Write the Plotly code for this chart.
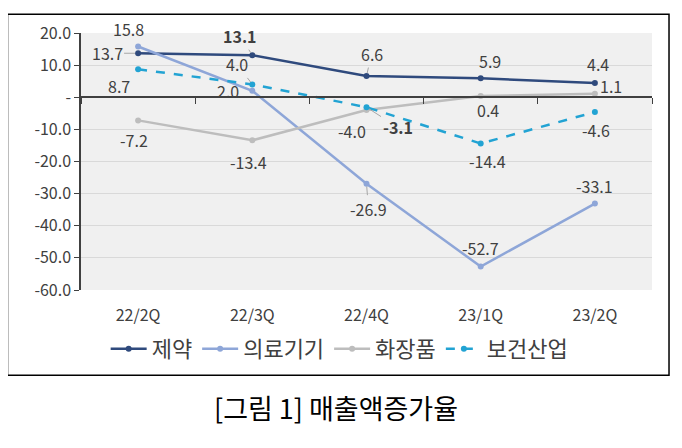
import plotly.graph_objects as go

categories = ["22/2Q", "22/3Q", "22/4Q", "23/1Q", "23/2Q"]
series_names = ["제약", "의료기기", "화장품", "보건산업"]
pharma = [13.7, 13.1, 6.6, 5.9, 4.4]
medical = [15.8, 2.0, -26.9, -52.7, -33.1]
cosmetics = [-7.2, -13.4, -4.0, 0.4, 1.1]
health = [8.7, 4.0, -3.1, -14.4, -4.6]
y_ticks = [20, 10, 0, -10, -20, -30, -40, -50, -60]
y_tick_labels = ["20.0", "10.0", "-", "-10.0", "-20.0", "-30.0", "-40.0", "-50.0", "-60.0"]
caption = "[그림 1] 매출액증가율"

colors = ["#2F4A7D", "#8EA6D8", "#BDBDBD", "#22A3D3"]
dashes = ["solid", "solid", "solid", "dash"]
values = [pharma, medical, cosmetics, health]

# label pixel offsets (dx right, dy up) and whether a leader line is drawn (style)
label_offsets = [
    [(-31, 0), (-12, 19), (5, 22), (9, 17), (3, 19)],
    [(-10, 17), (-24, 0), (2, -25), (0, 19), (0, 18)],
    [(-4, -20), (-4, -22), (-15, -21), (7, -14), (16, 8)],
    [(-19, -17), (-15, 20), (31, -20), (7, -17), (1, -18)],
]
leaders = {(0, 0), (0, 1), (0, 2), (1, 2), (3, 1), (3, 2)}
bold_labels = {(0, 1), (3, 2)}
label_font = dict(family="Noto Sans CJK KR, Noto Sans", size=16, color="#404040")

fig = go.Figure()
for name, vals, col, dsh in zip(series_names, values, colors, dashes):
    fig.add_trace(go.Scatter(
        x=categories, y=vals, name=name, mode="lines+markers",
        line=dict(color=col, width=2.5, dash=dsh),
        marker=dict(color=col, size=6, symbol="circle"),
    ))

annotations = []
for si, vals in enumerate(values):
    for ci, v in enumerate(vals):
        dx, dy = label_offsets[si][ci]
        txt = f"{v:.1f}"
        if (si, ci) in bold_labels:
            txt = f"<b>{txt}</b>"
        if (si, ci) in leaders:
            annotations.append(dict(
                x=categories[ci], y=v, text=txt, showarrow=True,
                ax=dx, ay=-dy, arrowhead=0, arrowwidth=1, arrowcolor="#a6a6a6",
                standoff=3, font=label_font,
            ))
        else:
            annotations.append(dict(
                x=categories[ci], y=v, text=txt, showarrow=False,
                xshift=dx, yshift=dy, font=label_font,
            ))

annotations.append(dict(
    x=0.447, y=-0.458, xref="paper", yref="paper", text=caption, showarrow=False,
    font=dict(family="Noto Sans CJK KR", size=27, color="#000000"),
    xanchor="center", yanchor="middle",
))

fig.update_layout(
    width=682, height=448,
    margin=dict(l=73, r=38, t=20, b=166),
    paper_bgcolor="white", plot_bgcolor="#f0f0f0",
    font=dict(family="Noto Sans CJK KR, Noto Sans", color="#404040"),
    showlegend=True,
    legend=dict(orientation="h", x=0.453, xanchor="center", y=-0.229, yanchor="middle",
                font=dict(size=22, color="#404040"), itemwidth=36,
                traceorder="normal", tracegroupgap=0),
    annotations=annotations,
    shapes=[dict(type="rect", xref="paper", yref="paper",
                 x0=-0.1287, x1=1.0298, y0=-0.332, y1=1.0725,
                 line=dict(color="black", width=1.5), fillcolor="rgba(0,0,0,0)", layer="below")],
)

fig.update_xaxes(
    type="category", range=[-0.5, 4.5], showgrid=False, showline=False, ticks="",
    tickfont=dict(size=16, color="#404040"), ticklabelstandoff=14,
)
fig.update_yaxes(
    range=[-60, 20], tickvals=y_ticks, ticktext=y_tick_labels,
    showgrid=True, gridcolor="#d9d9d9", gridwidth=1, zeroline=False,
    showline=True, linecolor="#404040", linewidth=1.5, ticks="outside", ticklen=5,
    tickcolor="#404040", tickfont=dict(size=16, color="#404040"),
)
# zero-crossing category axis
fig.update_layout(xaxis2=dict(
    overlaying="x", anchor="free", position=0.75, side="bottom",
    range=[-0.5, 4.5], tickvals=[-0.5, 0.5, 1.5, 2.5, 3.5, 4.5],
    showticklabels=False, showline=True, linecolor="#404040", linewidth=1.5,
    ticks="outside", ticklen=6, tickcolor="#404040", showgrid=False, zeroline=False,
))
fig.add_trace(go.Scatter(x=[None], y=[None], xaxis="x2", showlegend=False, hoverinfo="skip"))

fig.write_html("out.html")
